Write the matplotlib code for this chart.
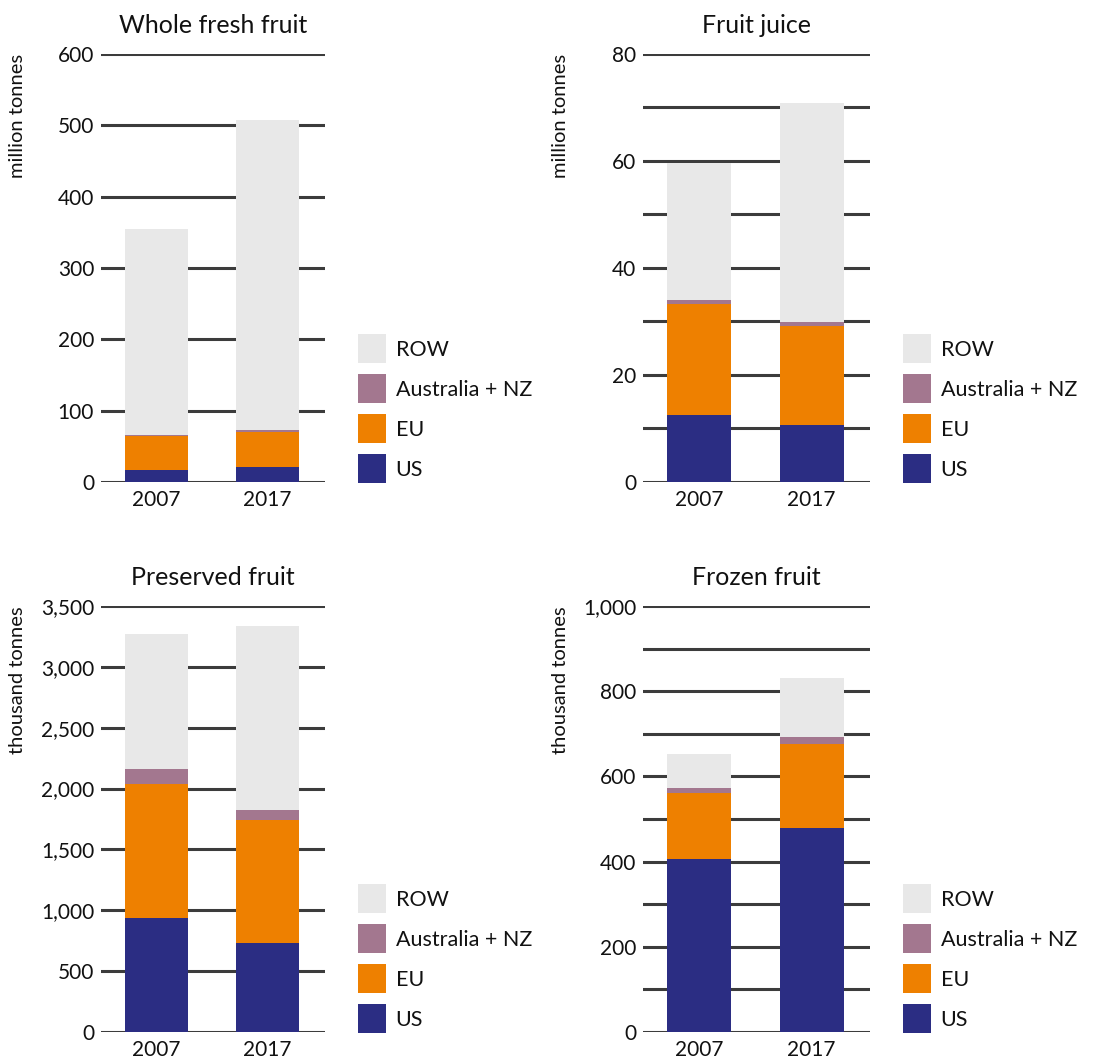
import matplotlib.pyplot as plt
from matplotlib.patches import Patch

plt.rcParams['font.family'] = ['Lato', 'DejaVu Sans']

W, H = 1114, 1063

years = ['2007', '2017']
regions = ['US', 'EU', 'Australia + NZ', 'ROW']
colors = ['#2b2d83', '#ee8000', '#a3778f', '#e8e8e8']

# Whole fresh fruit, million tonnes
fresh_us = [17, 21]
fresh_eu = [48, 49]
fresh_anz = [1, 3]
fresh_row = [289, 434]

# Fruit juice, million tonnes
juice_us = [12.5, 10.6]
juice_eu = [20.7, 18.5]
juice_anz = [0.9, 0.8]
juice_row = [25.6, 40.9]

# Preserved fruit, thousand tonnes
preserved_us = [935, 730]
preserved_eu = [1105, 1012]
preserved_anz = [123, 82]
preserved_row = [1107, 1509]

# Frozen fruit, thousand tonnes
frozen_us = [405, 480]
frozen_eu = [155, 196]
frozen_anz = [12, 17]
frozen_row = [80, 138]

fresh_ticks = [0, 100, 200, 300, 400, 500, 600]
fresh_labels = ['0', '100', '200', '300', '400', '500', '600']
juice_ticks = [0, 10, 20, 30, 40, 50, 60, 70, 80]
juice_labels = ['0', '', '20', '', '40', '', '60', '', '80']
preserved_ticks = [0, 500, 1000, 1500, 2000, 2500, 3000, 3500]
preserved_labels = ['0', '500', '1,000', '1,500', '2,000', '2,500', '3,000', '3,500']
frozen_ticks = [0, 100, 200, 300, 400, 500, 600, 700, 800, 900, 1000]
frozen_labels = ['0', '', '200', '', '400', '', '600', '', '800', '', '1,000']

panels = [
    ('Whole fresh fruit', 'million tonnes', [fresh_us, fresh_eu, fresh_anz, fresh_row],
     fresh_ticks, fresh_labels, (101, 54, 325, 482)),
    ('Fruit juice', 'million tonnes', [juice_us, juice_eu, juice_anz, juice_row],
     juice_ticks, juice_labels, (643, 54, 870, 482)),
    ('Preserved fruit', 'thousand tonnes', [preserved_us, preserved_eu, preserved_anz, preserved_row],
     preserved_ticks, preserved_labels, (101, 606, 325, 1032)),
    ('Frozen fruit', 'thousand tonnes', [frozen_us, frozen_eu, frozen_anz, frozen_row],
     frozen_ticks, frozen_labels, (643, 606, 870, 1032)),
]

fig = plt.figure(figsize=(W / 100, H / 100), dpi=100)

for title, unit, series, ticks, labels, (x0, y0, x1, y1) in panels:
    ax = fig.add_axes([x0 / W, 1 - y1 / H, (x1 - x0) / W, (y1 - y0) / H])
    bottom = [0, 0]
    for vals, col in zip(series, colors):
        ax.bar([0, 1], vals, width=0.57, bottom=bottom, color=col, zorder=3)
        bottom = [b + v for b, v in zip(bottom, vals)]
    ax.set_xlim(-0.5, 1.52)
    ax.set_ylim(0, ticks[-1])
    ax.set_yticks(ticks)
    ax.set_yticklabels(labels)
    ax.set_xticks([0, 1])
    ax.set_xticklabels(years)
    ax.tick_params(length=0, labelsize=15, colors='#111111')
    ax.tick_params(axis='y', pad=5)
    ax.tick_params(axis='x', pad=6)
    ax.yaxis.grid(True, color='#3c3c3c', linewidth=2.2, zorder=0)
    ax.set_axisbelow(True)
    for s in ax.spines.values():
        s.set_visible(False)
    ax.set_title(title, fontsize=18, pad=15, color='#111111')

    fig.text((x0 - 83) / W, 1 - y0 / H, unit, rotation=90, ha='center', va='top',
             fontsize=14.5, color='#111111')

    handles = [Patch(facecolor=c) for c in colors[::-1]]
    fig.legend(handles, regions[::-1], loc='upper left',
               bbox_to_anchor=((x1 + 33) / W, 1 - (y1 - 148) / H),
               frameon=False, fontsize=15.5, borderpad=0, borderaxespad=0,
               handlelength=1.3, handleheight=1.7, handletextpad=0.45,
               labelspacing=0.51, labelcolor='#111111')

plt.savefig('out.png', dpi=100)
